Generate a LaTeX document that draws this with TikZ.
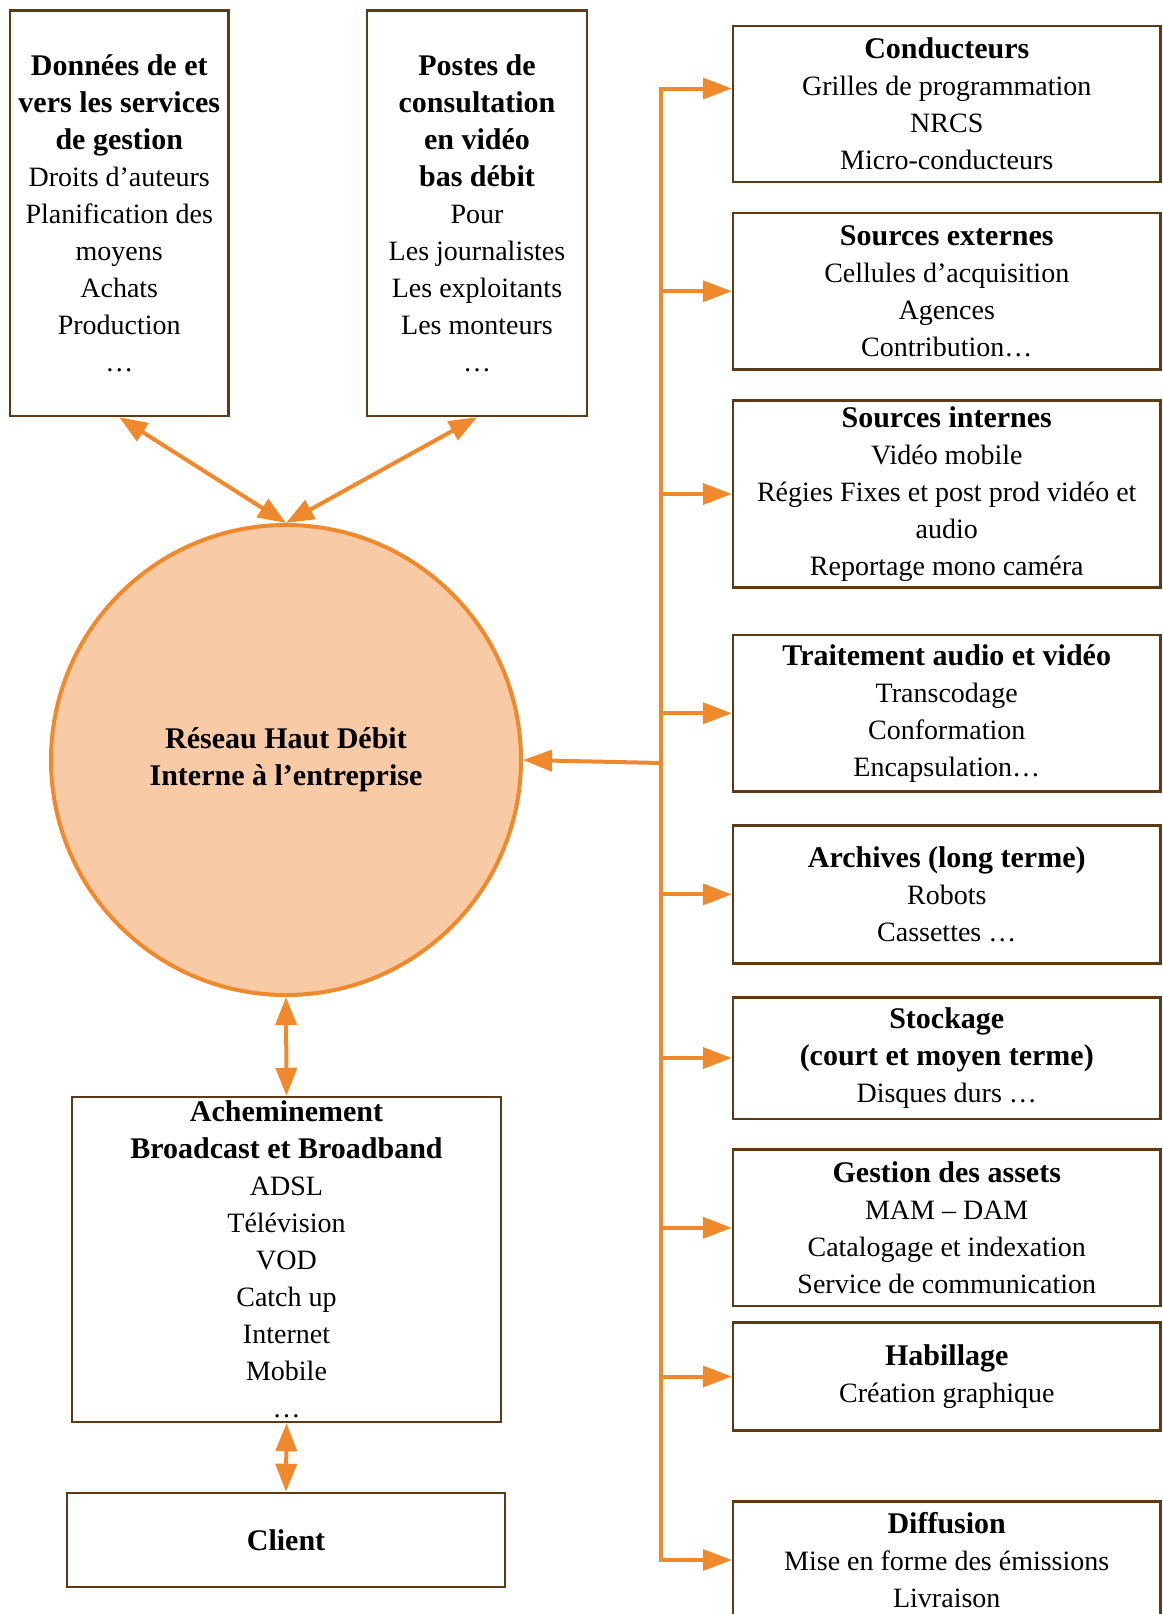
\documentclass[tikz,border=0pt]{standalone}
\usepackage{fontspec}
\setmainfont{Liberation Serif}
\usetikzlibrary{arrows.meta}
\definecolor{org}{HTML}{F0882C}
\definecolor{orgfill}{HTML}{F8CBA6}
\definecolor{brn}{HTML}{5E3A14}
\newcommand\hd[1]{{\fontsize{30}{37}\selectfont\bfseries #1}}
\begin{document}
\begin{tikzpicture}[x=1pt,y=-1pt,
  box/.style={draw=brn, line width=2.5pt, inner sep=0pt, align=center,
    font=\fontsize{28}{37}\selectfont},
  rbox/.style={box, minimum width=427.5pt},
  arr/.style={draw=org, line width=4pt, -{Triangle[length=29pt,width=21pt]}},
  darr/.style={draw=org, line width=4pt, {Triangle[length=28pt,width=21pt]}-{Triangle[length=28pt,width=21pt]}},
  bus/.style={draw=org, line width=4pt, line cap=rect}]
\useasboundingbox (0,0) rectangle (1162,1614);
\clip (0,0) rectangle (1162,1614);

% left column
\node[box, minimum width=218.5pt, minimum height=405.5pt] (dat) at (119.25,213.25)
  {\hd{Données de et}\\\hd{vers les services}\\\hd{de gestion}\\Droits d’auteurs\\Planification des\\moyens\\Achats\\Production\\…};
\node[box, minimum width=220pt, minimum height=405.5pt] (post) at (477,213.25)
  {\hd{Postes de}\\\hd{consultation}\\\hd{en vidéo}\\\hd{bas débit}\\Pour\\Les journalistes\\Les exploitants\\Les monteurs\\…};
\node[circle, draw=org, fill=orgfill, line width=4pt, minimum size=470pt, inner sep=0pt, align=center,
  font=\fontsize{30}{37}\selectfont] (res) at (286,760)
  {\hd{Réseau Haut Débit}\\\hd{Interne à l’entreprise}};
\node[box, minimum width=429pt, minimum height=325pt] (ach) at (286.5,1259.5)
  {\hd{Acheminement}\\\hd{Broadcast et Broadband}\\ADSL\\Télévision\\VOD\\Catch up\\Internet\\Mobile\\…};
\node[box, minimum width=438pt, minimum height=94pt] (cli) at (286,1540) {\hd{Client}};

% right column
\node[rbox, minimum height=156pt] (cond) at (946.75,104)
  {\hd{Conducteurs}\\Grilles de programmation\\NRCS\\Micro-conducteurs};
\node[rbox, minimum height=156.5pt] (sext) at (946.75,291.25)
  {\hd{Sources externes}\\Cellules d’acquisition\\Agences\\Contribution…};
\node[rbox, minimum height=187pt] (sint) at (946.75,494)
  {\hd{Sources internes}\\Vidéo mobile\\Régies Fixes et post prod vidéo et\\audio\\Reportage mono caméra};
\node[rbox, minimum height=156.5pt] (trait) at (946.75,713.25)
  {\hd{Traitement audio et vidéo}\\Transcodage\\Conformation\\Encapsulation…};
\node[rbox, minimum height=138pt] (arch) at (946.75,894.4)
  {\hd{Archives (long terme)}\\Robots\\Cassettes …};
\node[rbox, minimum height=121.5pt] (stock) at (946.75,1058)
  {\hd{Stockage}\\\hd{(court et moyen terme)}\\Disques durs …};
\node[rbox, minimum height=156.4pt] (gas) at (946.75,1227.8)
  {\hd{Gestion des assets}\\MAM – DAM\\Catalogage et indexation\\Service de communication};
\node[rbox, minimum height=108pt] (hab) at (946.75,1376.5)
  {\hd{Habillage}\\Création graphique};
\node[rbox, minimum height=117pt] (diff) at (946.75,1560)
  {\hd{Diffusion}\\Mise en forme des émissions\\Livraison};

% bus
\coordinate (btop) at (661,88.5);
\coordinate (bbot) at (661,1560);
\coordinate (bres) at (661,763);
\draw[bus] (btop) -- (bbot);
\draw[arr] (btop) -- (btop -| cond.west);
\foreach \n in {sext,sint,trait,arch,stock,gas,hab,diff}
  \draw[arr] (btop |- \n.west) -- (\n.west);
\draw[arr] (bres) -- (res.east);

% left connectors
\draw[darr] (dat.south) -- (res.north);
\draw[darr] (post.south) -- (res.north);
\draw[darr] (res.south) -- (ach.north);
\draw[darr] (ach.south) -- (cli.north);
\end{tikzpicture}
\end{document}
